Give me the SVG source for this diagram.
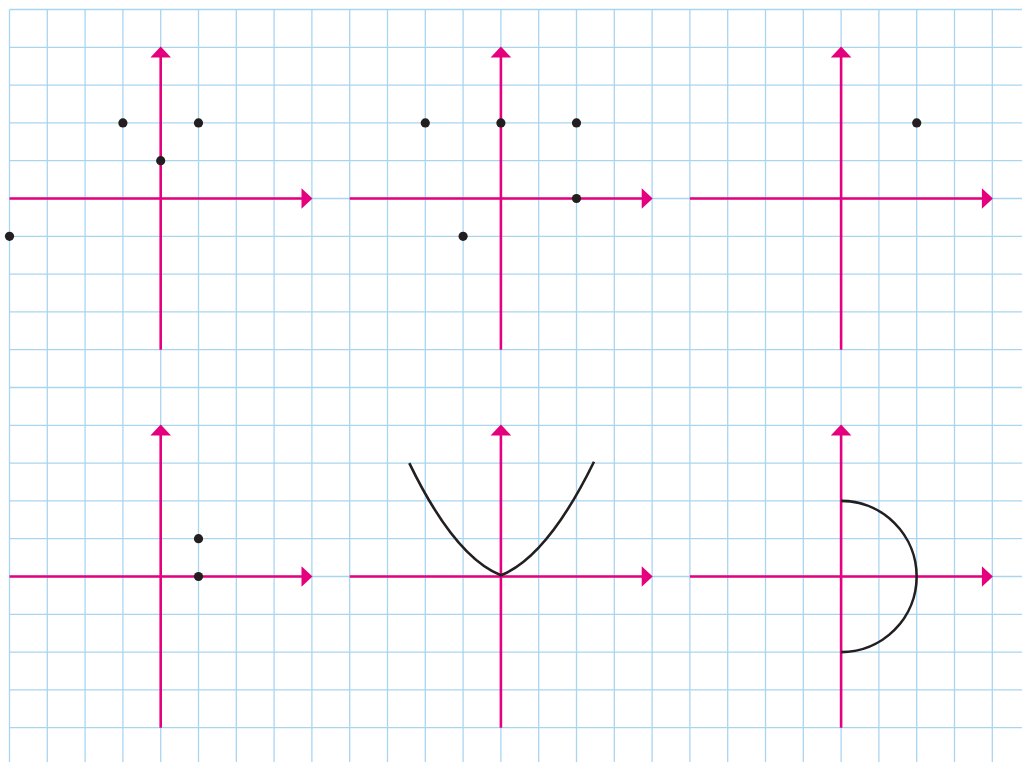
<svg xmlns="http://www.w3.org/2000/svg" width="1022" height="762" viewBox="0 0 1022 762">
<style>
.grid line{stroke:#a9d5f0;stroke-width:1.3}
.axis{stroke:#e5007d;stroke-width:2.6;fill:none}
.head{fill:#e5007d}
.pt{fill:#231f20}
.curve{stroke:#231f20;stroke-width:2.6;fill:none}
</style>
<rect width="1022" height="762" fill="#ffffff"/>
<g id="grid" class="grid">
<line x1="9.5" y1="9.5" x2="9.5" y2="762"/><line x1="47.3" y1="9.5" x2="47.3" y2="762"/><line x1="85.1" y1="9.5" x2="85.1" y2="762"/><line x1="122.9" y1="9.5" x2="122.9" y2="762"/><line x1="160.7" y1="9.5" x2="160.7" y2="762"/><line x1="198.5" y1="9.5" x2="198.5" y2="762"/><line x1="236.3" y1="9.5" x2="236.3" y2="762"/><line x1="274.1" y1="9.5" x2="274.1" y2="762"/><line x1="311.9" y1="9.5" x2="311.9" y2="762"/><line x1="349.7" y1="9.5" x2="349.7" y2="762"/><line x1="387.5" y1="9.5" x2="387.5" y2="762"/><line x1="425.3" y1="9.5" x2="425.3" y2="762"/><line x1="463.1" y1="9.5" x2="463.1" y2="762"/><line x1="500.9" y1="9.5" x2="500.9" y2="762"/><line x1="538.7" y1="9.5" x2="538.7" y2="762"/><line x1="576.5" y1="9.5" x2="576.5" y2="762"/><line x1="614.3" y1="9.5" x2="614.3" y2="762"/><line x1="652.1" y1="9.5" x2="652.1" y2="762"/><line x1="689.9" y1="9.5" x2="689.9" y2="762"/><line x1="727.7" y1="9.5" x2="727.7" y2="762"/><line x1="765.5" y1="9.5" x2="765.5" y2="762"/><line x1="803.3" y1="9.5" x2="803.3" y2="762"/><line x1="841.1" y1="9.5" x2="841.1" y2="762"/><line x1="878.9" y1="9.5" x2="878.9" y2="762"/><line x1="916.7" y1="9.5" x2="916.7" y2="762"/><line x1="954.5" y1="9.5" x2="954.5" y2="762"/><line x1="992.3" y1="9.5" x2="992.3" y2="762"/>
<line x1="9.5" y1="9.5" x2="1022" y2="9.5"/><line x1="9.5" y1="47.3" x2="1022" y2="47.3"/><line x1="9.5" y1="85.1" x2="1022" y2="85.1"/><line x1="9.5" y1="122.9" x2="1022" y2="122.9"/><line x1="9.5" y1="160.7" x2="1022" y2="160.7"/><line x1="9.5" y1="198.5" x2="1022" y2="198.5"/><line x1="9.5" y1="236.3" x2="1022" y2="236.3"/><line x1="9.5" y1="274.1" x2="1022" y2="274.1"/><line x1="9.5" y1="311.9" x2="1022" y2="311.9"/><line x1="9.5" y1="349.7" x2="1022" y2="349.7"/><line x1="9.5" y1="387.5" x2="1022" y2="387.5"/><line x1="9.5" y1="425.3" x2="1022" y2="425.3"/><line x1="9.5" y1="463.1" x2="1022" y2="463.1"/><line x1="9.5" y1="500.9" x2="1022" y2="500.9"/><line x1="9.5" y1="538.7" x2="1022" y2="538.7"/><line x1="9.5" y1="576.5" x2="1022" y2="576.5"/><line x1="9.5" y1="614.3" x2="1022" y2="614.3"/><line x1="9.5" y1="652.1" x2="1022" y2="652.1"/><line x1="9.5" y1="689.9" x2="1022" y2="689.9"/><line x1="9.5" y1="727.7" x2="1022" y2="727.7"/>
</g>
<g id="panel1">
<path class="axis" d="M160.7,349.7V56 M9.5,198.5H302"/>
<path class="head" d="M160.7,46.5L171,57.5H150.4Z M312.5,198.5L301.5,188.2V208.8Z"/>
<circle class="pt" cx="122.9" cy="122.9" r="4.6"/><circle class="pt" cx="198.5" cy="122.9" r="4.6"/><circle class="pt" cx="160.7" cy="160.7" r="4.6"/><circle class="pt" cx="9.5" cy="236.3" r="4.6"/>
</g>
<g id="panel2">
<path class="axis" d="M500.9,349.7V56 M349.7,198.5H642"/>
<path class="head" d="M500.9,46.5L511.2,57.5H490.6Z M652.7,198.5L641.7,188.2V208.8Z"/>
<circle class="pt" cx="425.3" cy="122.9" r="4.6"/><circle class="pt" cx="500.9" cy="122.9" r="4.6"/><circle class="pt" cx="576.5" cy="122.9" r="4.6"/><circle class="pt" cx="576.5" cy="198.5" r="4.6"/><circle class="pt" cx="463.1" cy="236.3" r="4.6"/>
</g>
<g id="panel3">
<path class="axis" d="M841.1,349.7V56 M689.9,198.5H982"/>
<path class="head" d="M841.1,46.5L851.4,57.5H830.8Z M992.9,198.5L981.9,188.2V208.8Z"/>
<circle class="pt" cx="916.7" cy="122.9" r="4.6"/>
</g>
<g id="panel4">
<path class="axis" d="M160.7,727.7V434 M9.5,576.5H302"/>
<path class="head" d="M160.7,424.5L171,435.5H150.4Z M312.5,576.5L301.5,566.2V586.8Z"/>
<circle class="pt" cx="198.5" cy="538.7" r="4.6"/><circle class="pt" cx="198.5" cy="576.5" r="4.6"/>
</g>
<g id="panel5">
<path class="axis" d="M500.9,727.7V434 M349.7,576.5H642"/>
<path class="head" d="M500.9,424.5L511.2,435.5H490.6Z M652.7,576.5L641.7,566.2V586.8Z"/>
<path class="curve" d="M409.3,463.1Q454.6,556.8 500.9,575.3Q547.4,556.8 594,461.7"/>
</g>
<g id="panel6">
<path class="axis" d="M841.1,727.7V434 M689.9,576.5H982"/>
<path class="head" d="M841.1,424.5L851.4,435.5H830.8Z M992.9,576.5L981.9,566.2V586.8Z"/>
<path class="curve" d="M841.1,500.9A75.6,75.6 0 0 1 841.1,652.1"/>
</g>
</svg>
